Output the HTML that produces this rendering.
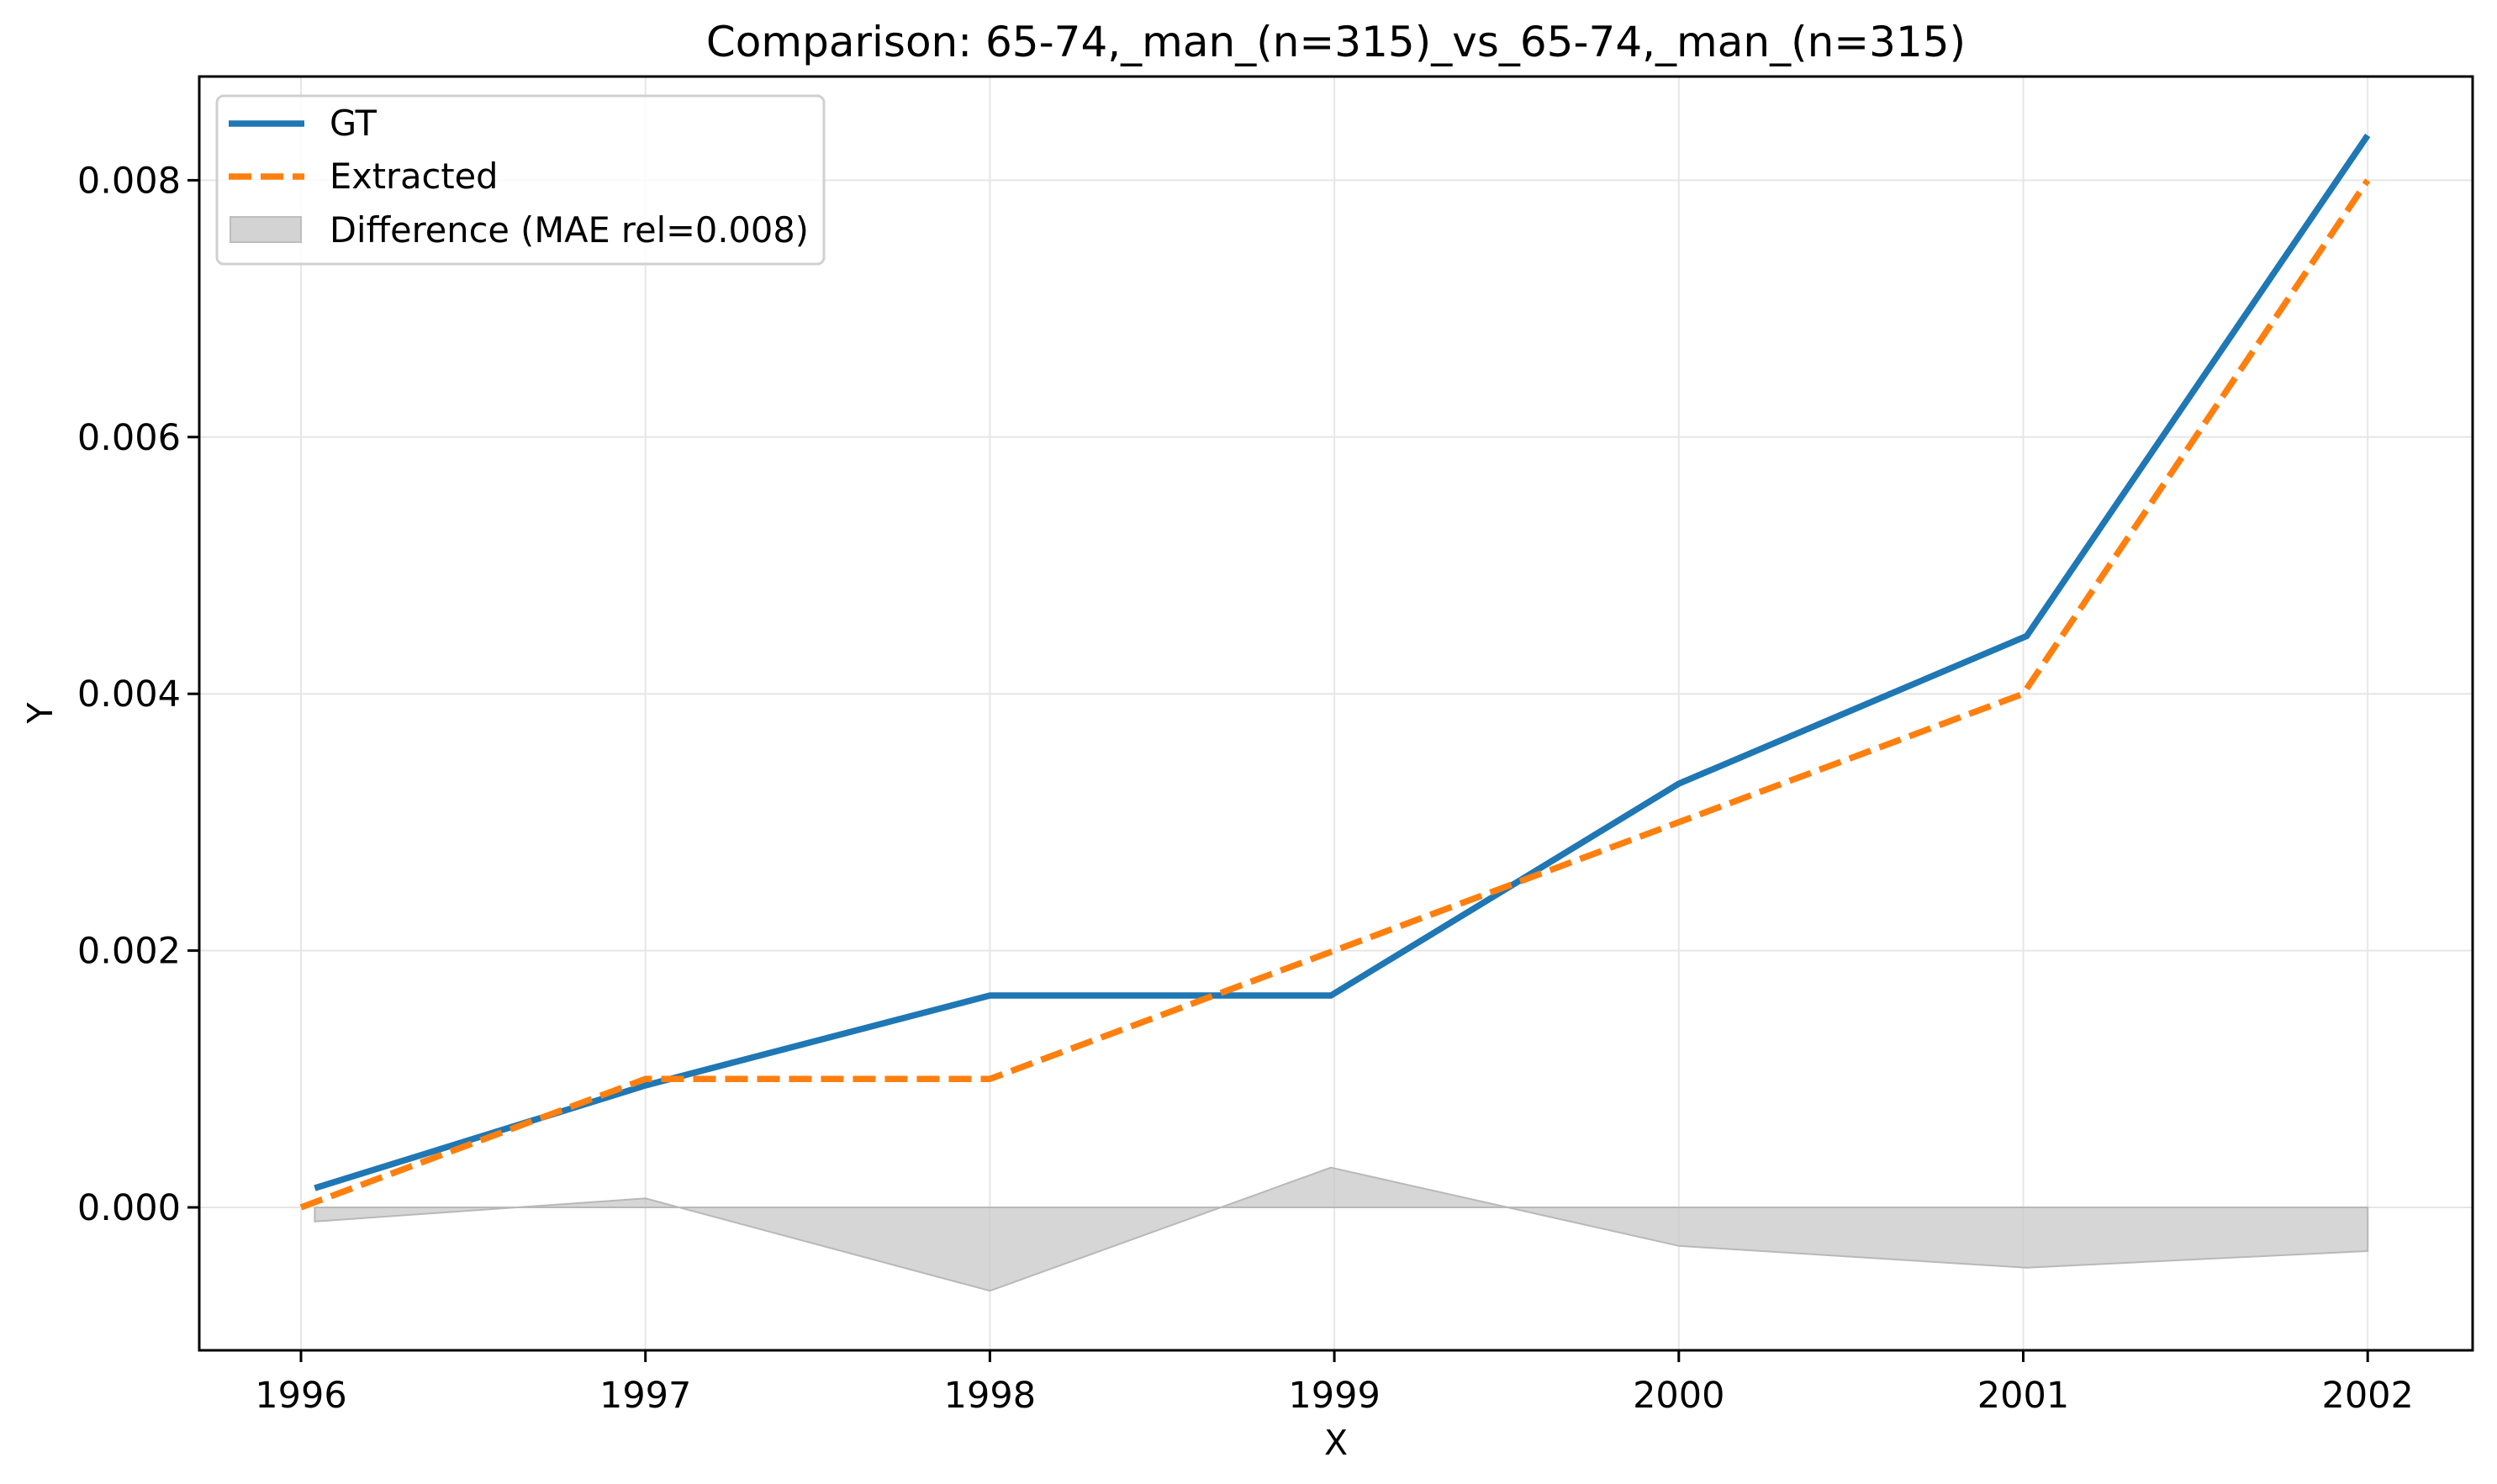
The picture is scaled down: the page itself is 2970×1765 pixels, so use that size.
<!DOCTYPE html>
<html><head><meta charset="utf-8"><style>body{margin:0;background:#fff}svg{display:block;font-family:"DejaVu Sans","Liberation Sans",sans-serif}</style></head>
<body>
<svg id="chart" width="2970" height="1765" xmlns="http://www.w3.org/2000/svg">
<text x="1589" y="67" font-size="50" text-anchor="middle">Comparison: 65-74,_man_(n=315)_vs_65-74,_man_(n=315)</text>
<g id="grid"></g><g id="fill"></g><g id="lines"></g><g id="axes"></g>
<text x="1589" y="1730" font-size="41" text-anchor="middle">X</text>
<text x="62" y="848" font-size="41" text-anchor="middle" transform="rotate(-90 62 848)">Y</text>
<g>
<rect x="258" y="114" width="722" height="200" rx="8" fill="#fff" fill-opacity="0.8" stroke="#d0d0d0" stroke-width="3"/>
<line x1="272" y1="147" x2="362" y2="147" stroke="#1f77b4" stroke-width="7.5"/>
<text x="392" y="161" font-size="41.5">GT</text>
<line x1="272" y1="210" x2="362" y2="210" stroke="#ff7f0e" stroke-width="7.5" stroke-dasharray="27,11"/>
<text x="392" y="224" font-size="41.5">Extracted</text>
<rect x="274" y="258" width="84" height="30" fill="#d3d3d3" stroke="#bdbdbd" stroke-width="2"/>
<text x="392" y="288" font-size="41.5">Difference (MAE rel=0.008)</text>
</g>
</svg>
<script>
const xYears=[1996,1997,1998,1999,2000,2001,2002];
const gtX=[1996.04,1997,1998,1998.99,2000,2001.01,2002];
const gtY=[0.00015,0.00095,0.00165,0.00165,0.0033,0.00445,0.00835];
const exY=[0,0.001,0.001,0.002,0.003,0.004,0.008];
const diffY=[-0.00011,0.00007,-0.00065,0.00031,-0.0003,-0.00047,-0.00034];
const xTicks=[1996,1997,1998,1999,2000,2001,2002];
const yTicks=[0,0.002,0.004,0.006,0.008];
const yTickLabels=["0.000","0.002","0.004","0.006","0.008"];
const L=237,R=2941,T=91,B=1606;
const sx=v=>358+(v-1996)*409.7;
const sy=v=>1436-v/0.002*305.4;
const NS="http://www.w3.org/2000/svg";
function mk(p,tag,a){const e=document.createElementNS(NS,tag);for(const k in a)e.setAttribute(k,a[k]);p.appendChild(e);return e;}
const grid=document.getElementById('grid'),axes=document.getElementById('axes'),fill=document.getElementById('fill'),lines=document.getElementById('lines');
xTicks.forEach(t=>{const x=sx(t);
const g=mk(grid,'line',{x1:x,x2:x,y1:T,y2:B,stroke:'#e6e6e6','stroke-width':2});


mk(axes,'line',{x1:x,x2:x,y1:B,y2:B+14,stroke:'#000','stroke-width':3});
const tx=mk(axes,'text',{x:x,y:B+68,'font-size':43,'text-anchor':'middle'});tx.textContent=t;

});
yTicks.forEach((t,i)=>{const y=sy(t);
const g=mk(grid,'line',{x1:L,x2:R,y1:y,y2:y,stroke:'#e6e6e6','stroke-width':2});


mk(axes,'line',{x1:L-14,x2:L,y1:y,y2:y,stroke:'#000','stroke-width':3});
const tx=mk(axes,'text',{x:L-22,y:y+15,'font-size':43,'text-anchor':'end'});tx.textContent=yTickLabels[i];

});
const fp=gtX.map((x,i)=>sx(x)+','+sy(diffY[i])).join(' ')+' '+sx(gtX[6])+','+sy(0)+' '+sx(gtX[0])+','+sy(0);
const f=mk(fill,'polygon',{points:fp,fill:'#c8c8c8','fill-opacity':0.75,stroke:'#b8b8b8','stroke-width':2});


const g1=mk(lines,'polyline',{points:gtX.map((x,i)=>sx(x)+','+sy(gtY[i])).join(' '),fill:'none',stroke:'#1f77b4','stroke-width':7.5});


const e1=mk(lines,'polyline',{points:xYears.map((x,i)=>sx(x)+','+sy(exY[i])).join(' '),fill:'none',stroke:'#ff7f0e','stroke-width':7.5,'stroke-dasharray':'27,11'});


const fr=mk(axes,'rect',{x:L,y:T,width:R-L,height:B-T,fill:'none',stroke:'#000','stroke-width':3});


</script>
</body></html>
